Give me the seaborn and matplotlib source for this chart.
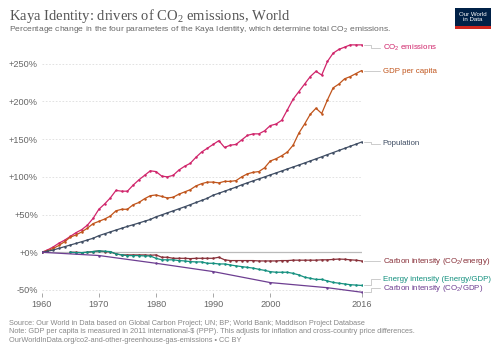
import numpy as np
import pandas as pd
import seaborn as sns
import matplotlib.pyplot as plt
from matplotlib.patches import Rectangle

years = list(range(1960, 2017))

co2 = [0, 3, 7, 12, 16, 21, 26, 30, 36, 45,
       57, 64, 72, 82, 81, 81, 89, 96, 102, 108,
       107, 101, 100, 102, 109, 114, 118, 126, 133, 138,
       143, 148, 139, 142, 143, 149, 155, 157, 157, 161,
       168, 170, 175, 189, 203, 213, 223, 233, 240, 235,
       253, 264, 269, 272, 275, 275, 275]

gdp_pc = [0, 2, 5, 9, 14, 20, 23, 27, 32, 38,
          41, 44, 48, 55, 57, 57, 63, 66, 71, 75,
          76, 74, 72, 73, 77, 80, 83, 88, 91, 93,
          93, 92, 94, 94, 95, 100, 104, 106, 107, 112,
          121, 124, 128, 133, 142, 158, 170, 183, 191, 184,
          202, 218, 223, 230, 233, 237, 241]

population = [0, 1.3, 3.0, 5.2, 7.4, 9.6, 11.8, 14.0, 16.3, 18.6,
              22.0, 24.5, 27.0, 29.5, 31.9, 34.3, 36.5, 38.8, 41.2, 43.5,
              47.0, 49.6, 52.3, 54.9, 57.6, 60.3, 63.1, 66.0, 68.8, 71.7,
              75.7, 78.3, 81.0, 83.7, 86.4, 89.4, 92.1, 94.7, 97.3, 99.9,
              102.6, 105.2, 107.8, 110.5, 113.1, 115.7, 118.4, 121.1, 123.9, 126.6,
              129.5, 132.2, 135.0, 137.8, 140.6, 143.4, 146.2]

# energy based series only start in 1965
na = [np.nan] * 5
co2_energy = na + [0, 0, -0.5, 0, 1,
                   1.8, 1, 0.5, -2.2, -3.5, -3.5, -3.5, -3.5, -3.5, -4,
                   -3.5, -6.6, -6.6, -8, -8, -8, -8.4, -8, -8, -8,
                   -8, -6.6, -10, -11, -11, -11, -11, -11, -11.5, -11.5,
                   -11.5, -11.5, -11, -11, -10.5, -10.5, -10.5, -10.5, -10.5, -10,
                   -10, -9.5, -9, -9.3, -10, -10.5, -11.5]

energy_gdp = na + [0, -0.4, -0.4, 0, 1,
                   1.8, 1.3, 0.9, -2.2, -3.5, -4.4, -4.4, -4.4, -4.9, -4.9,
                   -8, -10, -10, -10, -11, -11.5, -12.4, -12.8, -12.8, -14.6,
                   -14.6, -15.5, -15.5, -16.8, -18, -19, -20, -21, -22.6, -24,
                   -25.7, -26.5, -26.5, -26.5, -28, -30, -33, -34.5, -36, -36,
                   -38, -40, -41, -42, -43, -43.5, -44]

co2_gdp_years = [1960, 1970, 1980, 1990, 2000, 2010, 2016]
co2_gdp = [0, -4.3, -14.6, -25.6, -40.2, -47, -53]

series = [
    ("CO$\\mathregular{_2}$ emissions", years, co2, "#d0256b", 270.7),
    ("GDP per capita", years, gdp_pc, "#c0541b", 240),
    ("Population", years, population, "#3f4d63", 144),
    ("Carbon intensity (CO$\\mathregular{_2}$/energy)", years, co2_energy, "#883039", -12.2),
    ("Energy intensity (Energy/GDP)", years, energy_gdp, "#14907f", -35.8),
    ("Carbon intensity (CO$\\mathregular{_2}$/GDP)", co2_gdp_years, co2_gdp, "#6d3e91", -48),
]

sns.set_theme(style="white")
plt.rcParams["font.family"] = ["Liberation Sans", "DejaVu Sans"]

fig = plt.figure(figsize=(5, 3.53), dpi=100)
ax = fig.add_axes([0.0834, 0.170, 0.64, 0.705])

ax.axhline(0, color="#bbbbbb", lw=0.9, zorder=1)

for name, xs, ys, col, label_y in series:
    df = pd.DataFrame({"year": xs, "value": ys}).dropna()
    sns.lineplot(data=df, x="year", y="value", ax=ax, color=col, lw=0.9,
                 marker="o", markersize=1.8, markeredgewidth=0, zorder=3)
    end_y = df["value"].iloc[-1]
    # connector from last point to the label
    ax.plot([2016.4, 2017.6, 2017.6, 2019.2], [end_y, end_y, label_y, label_y],
            color="#cccccc", lw=0.7, clip_on=False)
    ax.text(2019.7, label_y, name, color=col, fontsize=5.7, va="center",
            ha="left", clip_on=False)

ax.set_xlim(1960, 2016)
ax.set_ylim(-54, 276)
ax.set_xticks([1960, 1970, 1980, 1990, 2000, 2016])
ax.set_yticks([-50, 0, 50, 100, 150, 200, 250])
ax.set_yticklabels(["-50%", "+0%", "+50%", "+100%", "+150%", "+200%", "+250%"])
ax.set_xlabel("")
ax.set_ylabel("")
ax.grid(axis="y", linestyle=(0, (2, 2)), color="#dddddd", lw=0.6)
ax.grid(axis="x", visible=False)
for s in ax.spines.values():
    s.set_visible(False)
ax.tick_params(axis="y", length=0, pad=2.7, labelsize=6.6, labelcolor="#666666")
ax.tick_params(axis="x", length=3, width=0.6, color="#999999", pad=2,
               labelsize=6.6, labelcolor="#666666", bottom=True)

fig.text(0.018, 0.955, "Kaya Identity: drivers of CO$\\mathregular{_2}$ emissions, World",
         family=["Liberation Serif", "DejaVu Serif"], fontsize=10.5,
         color="#555555", va="center")
fig.text(0.018, 0.916,
         "Percentage change in the four parameters of the Kaya Identity, which determine total CO$\\mathregular{_2}$ emissions.",
         fontsize=6.1, color="#666666", va="center")

foot = ["Source: Our World in Data based on Global Carbon Project; UN; BP; World Bank; Maddison Project Database",
        "Note: GDP per capita is measured in 2011 international-$ (PPP). This adjusts for inflation and cross-country price differences.",
        "OurWorldInData.org/co2-and-other-greenhouse-gas-emissions \u2022 CC BY"]
for i, line in enumerate(foot):
    fig.text(0.018, 0.0836 - i * 0.0234, line, fontsize=5.3, color="#888888", va="center")

# OWID logo box
fig.patches.append(Rectangle((0.910, 0.918), 0.072, 0.059, transform=fig.transFigure,
                             facecolor="#002147", edgecolor="none"))
fig.patches.append(Rectangle((0.910, 0.918), 0.072, 0.007, transform=fig.transFigure,
                             facecolor="#ce261e", edgecolor="none"))
fig.text(0.946, 0.951, "Our World\nin Data", color="white", fontsize=4.4,
         ha="center", va="center", linespacing=1.0)

fig.savefig("out.png", dpi=100)
